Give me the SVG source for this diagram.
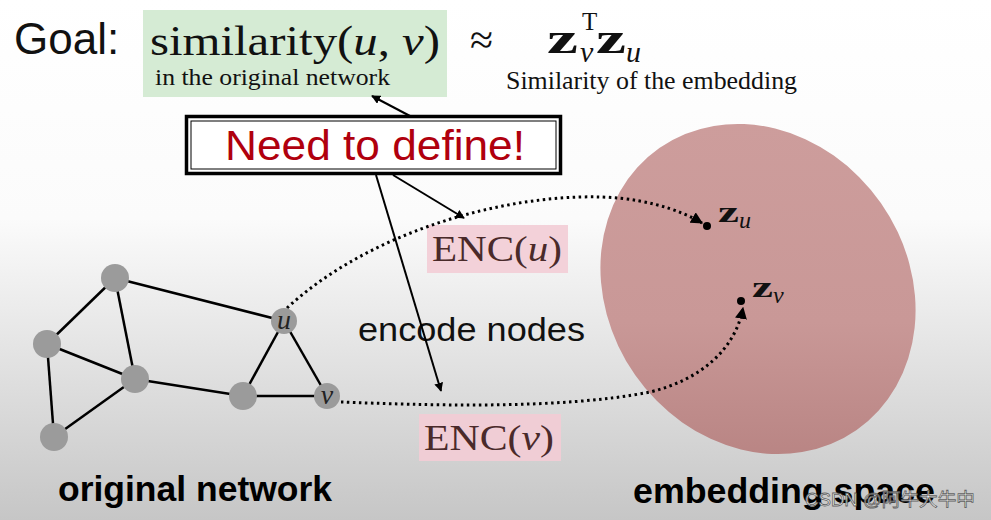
<svg xmlns="http://www.w3.org/2000/svg" width="991" height="520" viewBox="0 0 991 520">
<defs>
<linearGradient id="bg" x1="0" y1="0" x2="0" y2="1">
<stop offset="0" stop-color="#ffffff"/>
<stop offset="0.42" stop-color="#fbfbfb"/>
<stop offset="1" stop-color="#c6c6c6"/>
</linearGradient>
<linearGradient id="ell" gradientUnits="userSpaceOnUse" x1="0" y1="123" x2="0" y2="455" gradientTransform="rotate(-55 758 289)">
<stop offset="0" stop-color="#cd9d9c"/>
<stop offset="0.6" stop-color="#c99897"/>
<stop offset="1" stop-color="#b98584"/>
</linearGradient>
<marker id="ah" viewBox="0 0 10 10" refX="9" refY="5" markerWidth="9" markerHeight="9" markerUnits="userSpaceOnUse" orient="auto">
<path d="M0,0 L10,5 L0,10 z" fill="#000"/>
</marker>
<marker id="ahd" viewBox="0 0 10 10" refX="9" refY="5" markerWidth="12" markerHeight="12" markerUnits="userSpaceOnUse" orient="auto">
<path d="M0,0 L10,5 L0,10 z" fill="#000"/>
</marker>
</defs>
<style>
.sans{font-family:"Liberation Sans",Arial,sans-serif}
.serif{font-family:"Liberation Serif","Times New Roman",serif}
.edge{stroke:#000;stroke-width:2.5;fill:none}
.node{fill:#9b9b9b}
.arr{stroke:#000;stroke-width:2;fill:none}
.dot{stroke:#000;stroke-width:3;fill:none;stroke-dasharray:2.5 3.5}
</style>
<rect x="0" y="0" width="991" height="520" fill="url(#bg)"/>

<g id="embedding-space">
<ellipse cx="758" cy="289" rx="172" ry="150" transform="rotate(55 758 289)" fill="url(#ell)"/>
</g>

<g id="goal">
<text x="14" y="54" class="sans" font-size="44" fill="#111">Goal:</text>
</g>
<g id="similarity-box">
<rect x="143" y="10" width="304" height="87" fill="#d5ebd4"/>
<text x="150" y="55" class="serif" font-size="43" fill="#111" textLength="290" lengthAdjust="spacingAndGlyphs">similarity(<tspan font-style="italic">u</tspan>, <tspan font-style="italic">v</tspan>)</text>
<text x="155" y="85" class="serif" font-size="23" fill="#111" textLength="235" lengthAdjust="spacingAndGlyphs">in the original network</text>
</g>
<g id="approx">
<text x="470" y="54" class="serif" font-size="42" fill="#111">≈</text>
</g>
<g id="embedding-similarity">
<text x="547" y="53" class="serif" font-size="44" font-weight="bold" fill="#111" textLength="31" lengthAdjust="spacingAndGlyphs">z</text>
<text x="580" y="62" class="serif" font-size="30" font-style="italic" fill="#111">v</text>
<text x="582" y="30" class="serif" font-size="25" fill="#111">T</text>
<text x="596" y="53" class="serif" font-size="44" font-weight="bold" fill="#111" textLength="30" lengthAdjust="spacingAndGlyphs">z</text>
<text x="626" y="62" class="serif" font-size="30" font-style="italic" fill="#111">u</text>
<text x="506" y="89" class="serif" font-size="25" fill="#111" textLength="291" lengthAdjust="spacingAndGlyphs">Similarity of the embedding</text>
</g>

<g id="need-to-define">
<rect x="186.5" y="116.5" width="374" height="57" fill="#fff" stroke="#000" stroke-width="3.5"/>
<rect x="191" y="121" width="365" height="48" fill="none" stroke="#000" stroke-width="1"/>
<text x="375" y="160" text-anchor="middle" class="sans" font-size="43" fill="#b0000e" textLength="300" lengthAdjust="spacingAndGlyphs">Need to define!</text>
</g>

<g id="enc-u">
<rect x="427" y="225" width="141" height="48" fill="#f3d1d9"/>
<text x="432" y="261" class="serif" font-size="35" fill="#4a2a2a" textLength="130" lengthAdjust="spacingAndGlyphs">ENC(<tspan font-style="italic">u</tspan>)</text>
</g>
<g id="enc-v">
<rect x="419" y="414" width="142" height="47" fill="#f0cdd5"/>
<text x="424" y="450" class="serif" font-size="35" fill="#4a2a2a" textLength="130" lengthAdjust="spacingAndGlyphs">ENC(<tspan font-style="italic">v</tspan>)</text>
</g>

<g id="encode-nodes">
<text x="358" y="341" class="sans" font-size="34" fill="#111" textLength="227" lengthAdjust="spacingAndGlyphs">encode nodes</text>
</g>

<g id="connectors">
<line x1="410" y1="116" x2="372" y2="96" class="arr" marker-end="url(#ah)"/>
<line x1="393" y1="175" x2="464" y2="218" class="arr" marker-end="url(#ah)"/>
<line x1="376" y1="175" x2="441" y2="391" class="arr" marker-end="url(#ah)"/>
<path d="M287,308 C360,240 480,200 580,197 C640,195 680,210 702,223" class="dot" marker-end="url(#ahd)"/>
<path d="M341,402 C420,405 560,410 650,392 C700,380 735,350 743,308" class="dot" marker-end="url(#ahd)"/>
<line x1="115" y1="278" x2="47" y2="344" class="edge"/>
<line x1="115" y1="278" x2="135" y2="379" class="edge"/>
<line x1="115" y1="278" x2="284" y2="321" class="edge"/>
<line x1="47" y1="344" x2="135" y2="379" class="edge"/>
<line x1="47" y1="344" x2="54" y2="437" class="edge"/>
<line x1="135" y1="379" x2="54" y2="437" class="edge"/>
<line x1="135" y1="379" x2="243" y2="396" class="edge"/>
<line x1="243" y1="396" x2="284" y2="321" class="edge"/>
<line x1="243" y1="396" x2="327" y2="396" class="edge"/>
<line x1="284" y1="321" x2="327" y2="396" class="edge"/>
</g>

<g id="n1"><circle cx="115" cy="278" r="14" class="node" fill="#a2a2a2"/></g>
<g id="n2"><circle cx="47" cy="344" r="14" class="node"/></g>
<g id="n3"><circle cx="135" cy="379" r="14" class="node" fill="#8f8f8f"/></g>
<g id="n4"><circle cx="54" cy="437" r="14" class="node" fill="#8d8d8d"/></g>
<g id="n5"><circle cx="243" cy="396" r="14" class="node" fill="#939393"/></g>
<g id="node-u"><circle cx="284" cy="321" r="13" class="node" fill="#a3a3a3"/>
<text x="284" y="329" text-anchor="middle" class="serif" font-style="italic" font-size="28" fill="#222">u</text></g>
<g id="node-v"><circle cx="327" cy="396" r="13" class="node" fill="#a3a3a3"/>
<text x="327" y="404" text-anchor="middle" class="serif" font-style="italic" font-size="28" fill="#222">v</text></g>

<g id="zu">
<circle cx="707" cy="226" r="4" fill="#000"/>
<text x="718" y="222" class="serif" font-size="30" font-weight="bold" fill="#111" textLength="21" lengthAdjust="spacingAndGlyphs">z</text>
<text x="739" y="228" class="serif" font-size="24" font-style="italic" fill="#111">u</text>
</g>
<g id="zv">
<circle cx="741" cy="301" r="4" fill="#000"/>
<text x="752" y="297" class="serif" font-size="30" font-weight="bold" fill="#111" textLength="21" lengthAdjust="spacingAndGlyphs">z</text>
<text x="773" y="303" class="serif" font-size="24" font-style="italic" fill="#111">v</text>
</g>

<g id="label-original">
<text x="58" y="501" class="sans" font-size="35" font-weight="bold" fill="#000" textLength="274" lengthAdjust="spacingAndGlyphs">original network</text>
</g>
<g id="label-embedding">
<text x="633" y="503" class="sans" font-size="35" font-weight="bold" fill="#000" textLength="302" lengthAdjust="spacingAndGlyphs">embedding space</text>
</g>
<text x="805" y="506" font-family="'Liberation Sans','Noto Sans CJK SC',sans-serif" font-size="18" fill="#fff" stroke="#555" stroke-width="0.8" opacity="0.9" textLength="170" lengthAdjust="spacingAndGlyphs">CSDN @阿牛大牛中</text>
</svg>
